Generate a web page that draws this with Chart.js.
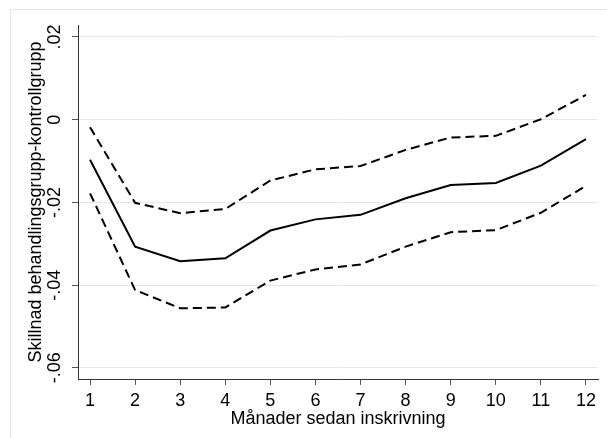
<!DOCTYPE html>
<html>
<head>
<meta charset="utf-8">
<script src="https://cdn.jsdelivr.net/npm/chart.js@4"></script>
<style>
  body { margin: 0; background: #fff; }
  #wrap { position: relative; width: 607px; height: 438px; }
  #frame { position: absolute; left: 10px; top: 9px; width: 600px; height: 440px; border: 1px solid #e6e6e6; box-sizing: border-box; }
  #chart { position: absolute; left: 0; top: 0; }
</style>
</head>
<body>
<div id="wrap">
  <div id="frame"></div>
  <canvas id="chart" width="607" height="438"></canvas>
</div>
<script>
const months = [1, 2, 3, 4, 5, 6, 7, 8, 9, 10, 11, 12];
const estimate = [-0.0097, -0.0307, -0.0342, -0.0335, -0.0268, -0.0241, -0.0230, -0.0190, -0.0158, -0.0153, -0.0111, -0.0047];
const upper = [-0.0018, -0.0201, -0.0226, -0.0216, -0.0147, -0.0120, -0.0112, -0.0073, -0.0043, -0.0039, 0.0001, 0.0060];
const lower = [-0.0178, -0.0412, -0.0456, -0.0454, -0.0389, -0.0362, -0.0350, -0.0307, -0.0272, -0.0267, -0.0225, -0.0160];
const yTicks = [0.02, 0, -0.02, -0.04, -0.06];
const yTickLabels = [".02", "0", "-.02", "-.04", "-.06"];
const xTitle = "Månader sedan inskrivning";
const yTitle = "Skillnad behandlingsgrupp-kontrollgrupp";

const font = "'Liberation Sans', Arial, sans-serif";

function points(values) {
    return months.map((m, i) => ({ x: m, y: values[i] }));
}

const ctx = document.getElementById("chart").getContext("2d");
new Chart(ctx, {
    type: "line",
    data: {
        datasets: [
            { label: "upper", data: points(upper), borderColor: "#000", borderWidth: 2, borderDash: [9, 5] },
            { label: "estimate", data: points(estimate), borderColor: "#000", borderWidth: 2 },
            { label: "lower", data: points(lower), borderColor: "#000", borderWidth: 2, borderDash: [9, 5] },
        ],
    },
    options: {
        responsive: false,
        animation: false,
        elements: { point: { radius: 0 }, line: { tension: 0, fill: false } },
        layout: { padding: { left: 10, top: 25, right: 9, bottom: 0 } },
        plugins: { legend: { display: false }, tooltip: { enabled: false } },
        scales: {
            x: {
                type: "linear",
                min: 0.733,
                max: 12.267,
                afterBuildTicks: (s) => { s.ticks = months.map((v) => ({ value: v })); },
                afterFit: (s) => { s.height = 59; },
                grid: { drawOnChartArea: false, tickLength: 6, tickColor: "#555" },
                border: { color: "#333", width: 1 },
                ticks: { color: "#000", font: { family: font, size: 18 }, padding: 5, maxRotation: 0 },
                title: { display: true, text: xTitle, color: "#000", font: { family: font, size: 18 }, padding: { top: 0, bottom: 8 } },
            },
            y: {
                type: "linear",
                min: -0.0627,
                max: 0.0229,
                afterBuildTicks: (s) => { s.ticks = yTicks.map((v) => ({ value: v })); },
                afterFit: (s) => { s.width = 68; },
                grid: { color: "#e6e6e6", lineWidth: 1, tickLength: 6, tickColor: "#555" },
                border: { color: "#333", width: 1 },
                ticks: {
                    color: "#000",
                    font: { family: font, size: 18 },
                    minRotation: 90,
                    maxRotation: 90,
                    crossAlign: "center",
                    padding: 1,
                    callback: (v) => {
                        const i = yTicks.findIndex((t) => Math.abs(t - v) < 1e-9);
                        return i >= 0 ? yTickLabels[i] : "";
                    },
                },
                title: { display: true, text: yTitle, color: "#000", font: { family: font, size: 18 }, padding: { top: 15, bottom: 0 } },
            },
        },
    },
});
</script>
</body>
</html>
